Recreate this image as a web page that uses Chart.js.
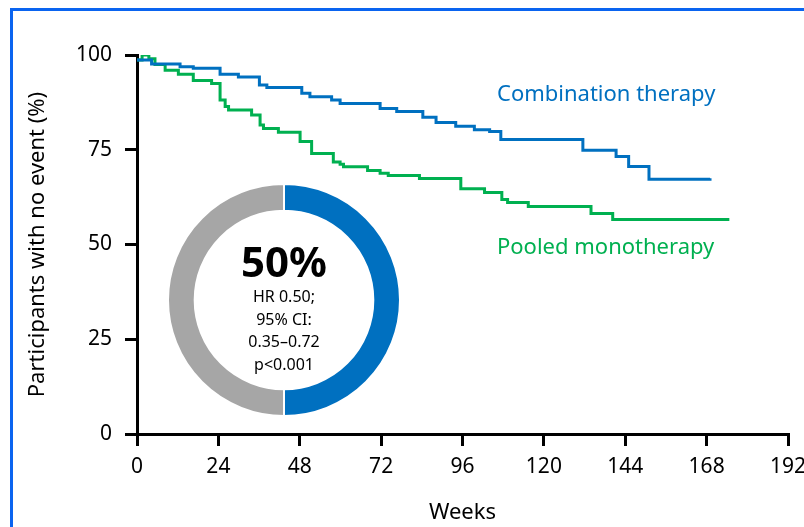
<!DOCTYPE html>
<html lang="en">

<head>
    <meta charset="UTF-8">
    <meta name="viewport" content="width=device-width, initial-scale=1.0">
    <script src="https://cdn.jsdelivr.net/npm/chart.js"></script>
    <title>Participants with no event</title>
    <style>
        body {
            margin: 0;
            width: 804px;
            height: 527px;
            overflow: hidden;
            background: #fff;
            position: relative;
            font-family: 'Noto Sans', sans-serif;
        }
        .frame {
            position: absolute;
            left: 10px;
            top: 8px;
            width: 900px;
            height: 700px;
            border-left: 3px solid #0A64F0;
            border-top: 3px solid #0A64F0;
        }
        #chart-km { position: absolute; left: 0; top: 0; }
        #chart-hr { position: absolute; left: 167px; top: 183px; }
        .serie {
            position: absolute;
            font-size: 22px;
            white-space: nowrap;
            line-height: 1;
        }
        .combo { left: 497px; top: 81px; color: #0070C0; }
        .mono { left: 497px; top: 234px; color: #00B050; }
        .hr-text {
            position: absolute;
            left: 204px;
            width: 160px;
            top: 237px;
            text-align: center;
            color: #000;
        }
        .hr-text .big { font-size: 42px; font-weight: bold; line-height: 48px; }
        .hr-text .small { font-size: 16px; line-height: 22.5px; }
    </style>
</head>

<body>
    <div class="frame"></div>
    <canvas id="chart-km" width="804" height="527"></canvas>
    <canvas id="chart-hr" width="234" height="234"></canvas>

    <div class="serie combo">Combination therapy</div>
    <div class="serie mono">Pooled monotherapy</div>

    <div class="hr-text">
        <div class="big">50%</div>
        <div class="small">HR 0.50;</div>
        <div class="small">95% CI:</div>
        <div class="small">0.35–0.72</div>
        <div class="small">p&lt;0.001</div>
    </div>

<script>
    // semanas e % sem evento
    const comboWeeks = [0, 4.3, 12.7, 16.6, 24.5, 29.9, 36.1, 38.3, 48.6, 51, 57.4, 59.9, 71.7, 76.6, 84.3, 88.2, 94, 99.5, 104, 107.3, 131.5, 141.3, 145, 151, 169];
    const comboPct = [98.7, 97.6, 96.9, 96.5, 94.9, 94.2, 92.1, 91.4, 89.9, 89.0, 88.1, 87.2, 85.9, 85.1, 83.6, 82.2, 81.2, 80.3, 79.8, 77.7, 74.9, 73.2, 70.6, 67.2, 67.5];

    const monoWeeks = [0, 1.5, 3.5, 5.3, 8.3, 12.2, 16.6, 22, 24.5, 26, 27, 33.8, 36.3, 37.3, 41.7, 48.1, 51.5, 57.9, 59.9, 60.9, 68, 71.7, 74.1, 83.3, 95.5, 102.5, 107.6, 109.3, 115.4, 133.9, 140.3, 174.7];
    const monoPct = [98.7, 100, 99, 97.5, 96.0, 94.9, 93.3, 92.5, 88.1, 86.4, 85.5, 84.2, 81.5, 80.6, 79.6, 77.2, 74.0, 71.8, 71.2, 70.5, 69.5, 68.8, 68.2, 67.4, 64.7, 63.7, 61.9, 61.1, 60.0, 58.2, 56.6, 56.6];

    // redução de risco: combinação x resto
    const hrLabels = ['Reduction', 'Remainder'];
    const hrValues = [50, 50];

    const toPoints = (xs, ys) => xs.map((x, i) => ({ x: x, y: ys[i] }));

    const tickFont = { family: 'Noto Sans', size: 21 };
    const titleFont = { family: 'Noto Sans', size: 22 };

    const ctxKm = document.getElementById('chart-km');

    new Chart(ctxKm, {
        type: 'line',
        data: {
            datasets: [{
                label: 'Combination therapy',
                data: toPoints(comboWeeks, comboPct),
                borderColor: '#0070C0',
                borderWidth: 3,
                pointRadius: 0,
                stepped: 'before',
                fill: false
            },
            {
                label: 'Pooled monotherapy',
                data: toPoints(monoWeeks, monoPct),
                borderColor: '#00B050',
                borderWidth: 3,
                pointRadius: 0,
                stepped: 'before',
                fill: false
            }]
        },
        options: {
            responsive: false,
            animation: false,
            plugins: {
                legend: { display: false },
                tooltip: { enabled: false }
            },
            layout: {
                padding: { top: 55, right: 0, left: 0, bottom: 0 }
            },
            scales: {
                x: {
                    type: 'linear',
                    min: 0,
                    max: 192,
                    ticks: { stepSize: 24, color: '#000', font: tickFont, padding: 8, maxRotation: 0 },
                    grid: { drawOnChartArea: false, tickLength: 12, tickColor: '#000', lineWidth: 3, tickWidth: 3 },
                    border: { color: '#000', width: 3 },
                    title: { display: true, text: 'Weeks', color: '#000', font: titleFont, padding: { top: 0, bottom: 1 } },
                    afterFit: (s) => { s.height = 93; s.paddingRight = 16; }
                },
                y: {
                    min: 0,
                    max: 100,
                    ticks: { stepSize: 25, color: '#000', font: tickFont, padding: 13 },
                    grid: { drawOnChartArea: false, tickLength: 12, tickColor: '#000', lineWidth: 3, tickWidth: 3 },
                    border: { color: '#000', width: 3 },
                    title: { display: true, text: 'Participants with no event (%)', color: '#000', font: titleFont, padding: { top: 25, bottom: 0 } },
                    afterFit: (s) => { s.width = 137; }
                }
            }
        }
    });

    const ctxHr = document.getElementById('chart-hr');

    new Chart(ctxHr, {
        type: 'doughnut',
        data: {
            labels: hrLabels,
            datasets: [{
                data: hrValues,
                backgroundColor: ['#0070C0', '#A6A6A6'],
                borderColor: '#ffffff',
                borderWidth: 2
            }]
        },
        options: {
            responsive: false,
            animation: false,
            cutout: '77%',
            plugins: {
                legend: { display: false },
                tooltip: { enabled: false }
            }
        }
    });
</script>
</body>
</html>
